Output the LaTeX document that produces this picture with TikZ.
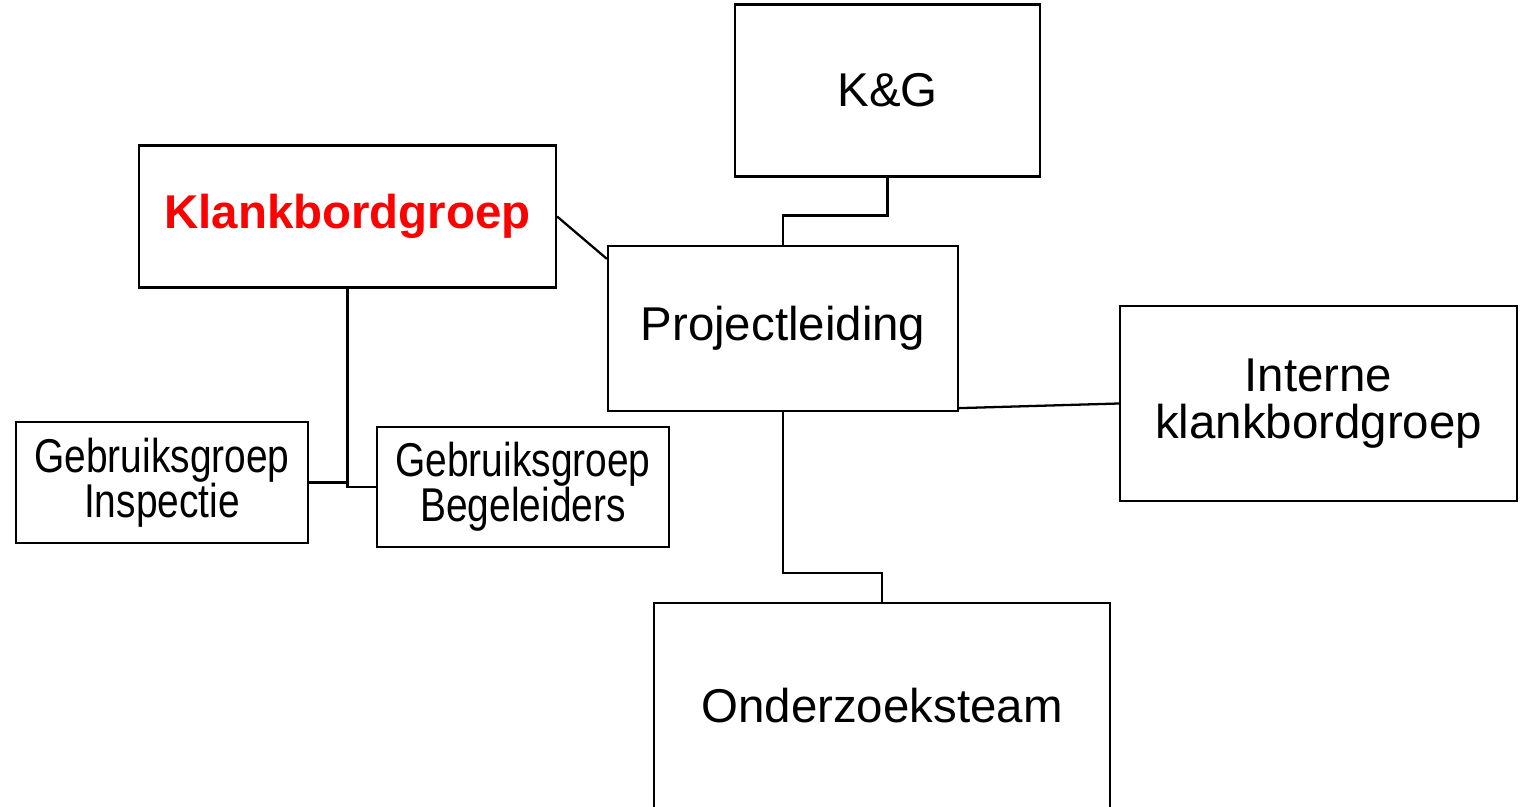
\documentclass[tikz,border=0pt]{standalone}
\usepackage{fontspec}
\setmainfont{Liberation Sans}
\newfontfamily\narrowfont[FakeStretch=0.82]{Liberation Sans}
\usetikzlibrary{positioning,calc}
\tikzset{
  orgbox/.style={draw=black,line width=1.3pt,fill=white,align=center,inner sep=0pt,
    font=\fontsize{27}{27}\selectfont},
  smallbox/.style={orgbox,minimum width=5.84cm,font=\narrowfont\fontsize{27}{25.5}\selectfont},
  lnk/.style={line width=1.3pt,line join=miter},
}
\begin{document}
\begin{tikzpicture}[x=0.02cm,y=0.02cm]
  \clip (0,0) rectangle (1522,806);
  % ---- top and centre ----
  \node[orgbox,minimum width=6.1cm,minimum height=3.44cm] (kg) at (887.5,715.5) {K\&G};
  \node[orgbox,minimum width=7cm,minimum height=3.3cm] (pl) at (783,477.5) {Projectleiding};
  \node[orgbox,minimum width=8.34cm,minimum height=2.84cm,text=red,
    font=\bfseries\fontsize{27}{27}\selectfont] (kbg) at (347.5,589.5) {Klankbordgroep};
  \node[orgbox,minimum width=7.94cm,minimum height=3.9cm] (ikg) at (1318.5,402.5)
    {Interne\\klankbordgroep};
  \node[orgbox,minimum width=9.12cm,minimum height=4.12cm] (ozt) at (882,100) {Onderzoeksteam};
  % ---- user groups ----
  \node[smallbox,minimum height=2.42cm] (gbi) at (162,323.5) {Gebruiksgroep\\Inspectie};
  \node[smallbox,minimum height=2.4cm] (gbb) at (523,319) {Gebruiksgroep\\Begeleiders};
  % ---- connectors ----
  \draw[lnk] (kg.south) -- ++(0,-38) -| (pl.north);
  \draw[lnk] (kbg.east) -- ([yshift=-0.28cm]pl.north west);
  \draw[lnk] ([yshift=0.08cm]pl.south east) -- (ikg.west);
  \draw[lnk] (pl.south) -- ++(0,-161) -| (ozt.north);
  \draw[lnk] (kbg.south) |- (gbb.west);
  \draw[lnk] (gbi.east) -- (gbi.east -| kbg.south);
\end{tikzpicture}
\end{document}
